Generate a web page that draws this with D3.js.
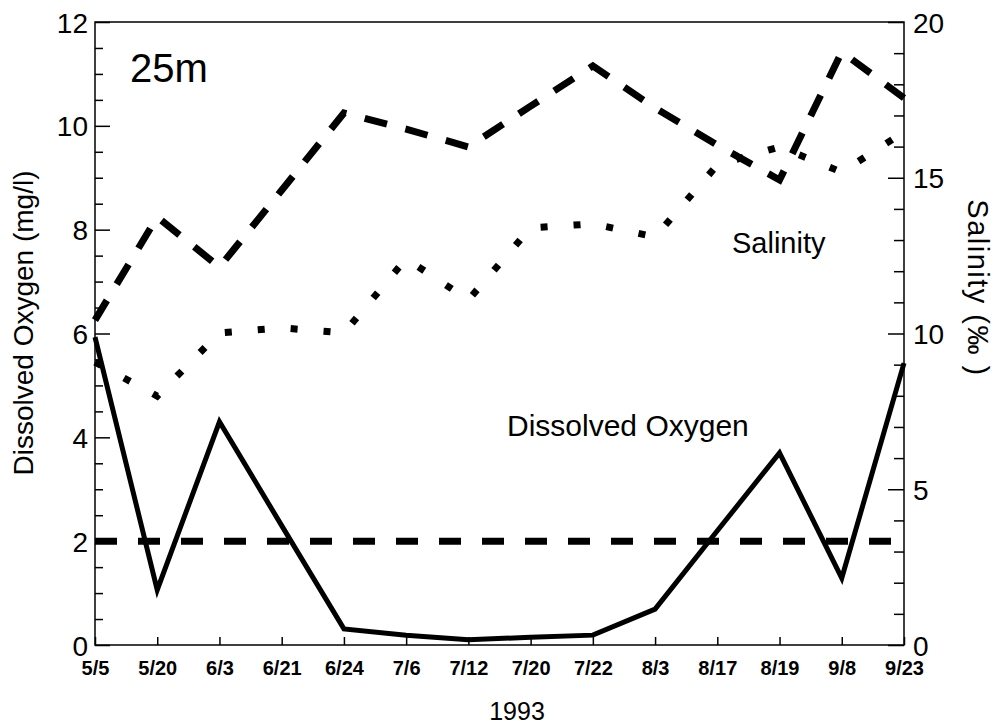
<!DOCTYPE html>
<html>
<head>
<meta charset="utf-8">
<script src="https://cdn.jsdelivr.net/npm/d3@7"></script>
<style>
body { margin: 0; background: #fff; }
svg { font-family: "Liberation Sans", Arial, Helvetica, sans-serif; }
</style>
</head>
<body>
<div id="chartArea"></div>
<script>
const w = 996;
const h = 728;

// sampling dates (1993), evenly spaced on the axis
var dates = ["5/5", "5/20", "6/3", "6/21", "6/24", "7/6", "7/12", "7/20", "7/22", "8/3", "8/17", "8/19", "9/8", "9/23"];

// dissolved oxygen at 25m, mg/l (left axis)
var oxygen = [5.93, 1.06, 4.3, 2.3, 0.31, 0.19, 0.1, 0.15, 0.19, 0.69, 2.2, 3.7, 1.29, 5.43];

// salinity traces, per mil (right axis)
var salinityDashed = [10.43, 13.74, 12.13, 14.6, 17.08, 16.56, 15.99, 17.3, 18.59, 17.24, 16.05, 14.93, 19.04, 17.56];
var salinityDotted = [9.08, 7.99, 10.02, 10.18, 10.02, 12.4, 11.08, 13.39, 13.52, 13.1, 15.41, 15.99, 15.18, 16.47];

// hypoxia threshold, mg/l
var hypoxia = 2;

var doTicks = [0, 2, 4, 6, 8, 10, 12];
var salTicks = [0, 5, 10, 15, 20];

// plot box (note: "top" is taken by window.top, so prefix everything)
var plotL = 95, plotR = 904, plotT = 22, plotB = 645;

var svg = d3.select("#chartArea")
    .append("svg")
    .attr("width", w)
    .attr("height", h);

var x = d3.scalePoint()
    .domain(dates)
    .range([plotL, plotR]);

var yDO = d3.scaleLinear()
    .domain([0, 12])
    .range([plotB, plotT]);

var ySal = d3.scaleLinear()
    .domain([0, 20])
    .range([plotB, plotT]);

/* axes: all ticks point inward, minor ticks drawn as separate axes without labels */

var doMinor = d3.range(0, 12.01, 0.5).filter(function(v) { return v % 2 !== 0; });
var salMinor = d3.range(0, 20.01, 1).filter(function(v) { return v % 5 !== 0; });

svg.append("g")
    .attr("transform", "translate(" + plotL + ",0)")
    .call(d3.axisLeft(yDO).tickValues(doMinor).tickSizeInner(-8).tickSizeOuter(0).tickFormat(""));

var axL = svg.append("g")
    .attr("transform", "translate(" + plotL + ",0)")
    .call(d3.axisLeft(yDO).tickValues(doTicks).tickSizeInner(-15).tickSizeOuter(0).tickPadding(7).tickFormat(d3.format("d")));

svg.append("g")
    .attr("transform", "translate(" + plotR + ",0)")
    .call(d3.axisRight(ySal).tickValues(salMinor).tickSizeInner(-10).tickSizeOuter(0).tickFormat(""));

var axR = svg.append("g")
    .attr("transform", "translate(" + plotR + ",0)")
    .call(d3.axisRight(ySal).tickValues(salTicks).tickSizeInner(-16).tickSizeOuter(0).tickPadding(9).tickFormat(d3.format("d")));

var axB = svg.append("g")
    .attr("transform", "translate(0," + plotB + ")")
    .call(d3.axisBottom(x).tickSizeInner(-8).tickSizeOuter(0).tickPadding(16));

svg.selectAll(".domain").remove();
svg.selectAll(".tick line").attr("stroke", "#000").attr("stroke-width", 1.5);

axL.selectAll("text")
    .attr("font-family", "Liberation Sans, Arial, sans-serif")
    .attr("font-size", 28)
    .attr("dy", "0.36em");

axR.selectAll("text")
    .attr("font-family", "Liberation Sans, Arial, sans-serif")
    .attr("font-size", 28)
    .attr("dy", "0.36em");

axB.selectAll("text")
    .attr("font-family", "Liberation Sans, Arial, sans-serif")
    .attr("font-size", 20)
    .attr("font-weight", "bold");

// frame
svg.append("rect")
    .attr("x", plotL)
    .attr("y", plotT)
    .attr("width", plotR - plotL)
    .attr("height", plotB - plotT)
    .attr("fill", "none")
    .attr("stroke", "#000")
    .attr("stroke-width", 1.5);

// lines
var lineDO = d3.line()
    .x(function(d, i) { return x(dates[i]); })
    .y(function(d) { return yDO(d); });

var lineSal = d3.line()
    .x(function(d, i) { return x(dates[i]); })
    .y(function(d) { return ySal(d); });

svg.append("line")
    .attr("x1", x(dates[0]))
    .attr("x2", x(dates[dates.length - 1]) - 6)
    .attr("y1", yDO(hypoxia))
    .attr("y2", yDO(hypoxia))
    .attr("stroke", "#000")
    .attr("stroke-width", 7)
    .attr("stroke-dasharray", "22,21");

svg.append("path")
    .datum(salinityDashed)
    .attr("d", lineSal)
    .attr("fill", "none")
    .attr("stroke", "#000")
    .attr("stroke-width", 7)
    .attr("stroke-dasharray", "23,19");

svg.append("path")
    .datum(salinityDotted)
    .attr("d", lineSal)
    .attr("fill", "none")
    .attr("stroke", "#000")
    .attr("stroke-width", 7)
    .attr("stroke-dasharray", "7,26");

svg.append("path")
    .datum(oxygen)
    .attr("d", lineDO)
    .attr("fill", "none")
    .attr("stroke", "#000")
    .attr("stroke-width", 5)
    .attr("stroke-linejoin", "miter");

// labels
svg.append("text")
    .attr("x", 130)
    .attr("y", 82)
    .attr("font-size", 40)
    .text("25m");

svg.append("text")
    .attr("x", 732)
    .attr("y", 253)
    .attr("font-size", 29)
    .text("Salinity");

svg.append("text")
    .attr("x", 507)
    .attr("y", 436)
    .attr("font-size", 30)
    .text("Dissolved Oxygen");

svg.append("text")
    .attr("x", 517)
    .attr("y", 720)
    .attr("text-anchor", "middle")
    .attr("font-size", 25)
    .text("1993");

svg.append("text")
    .attr("transform", "translate(33,323) rotate(-90)")
    .attr("text-anchor", "middle")
    .attr("font-size", 28)
    .text("Dissolved Oxygen (mg/l)");

svg.append("text")
    .attr("transform", "translate(968,288) rotate(90)")
    .attr("text-anchor", "middle")
    .attr("font-size", 29)
    .attr("letter-spacing", 1.5)
    .text("Salinity (‰ )");
</script>
</body>
</html>
